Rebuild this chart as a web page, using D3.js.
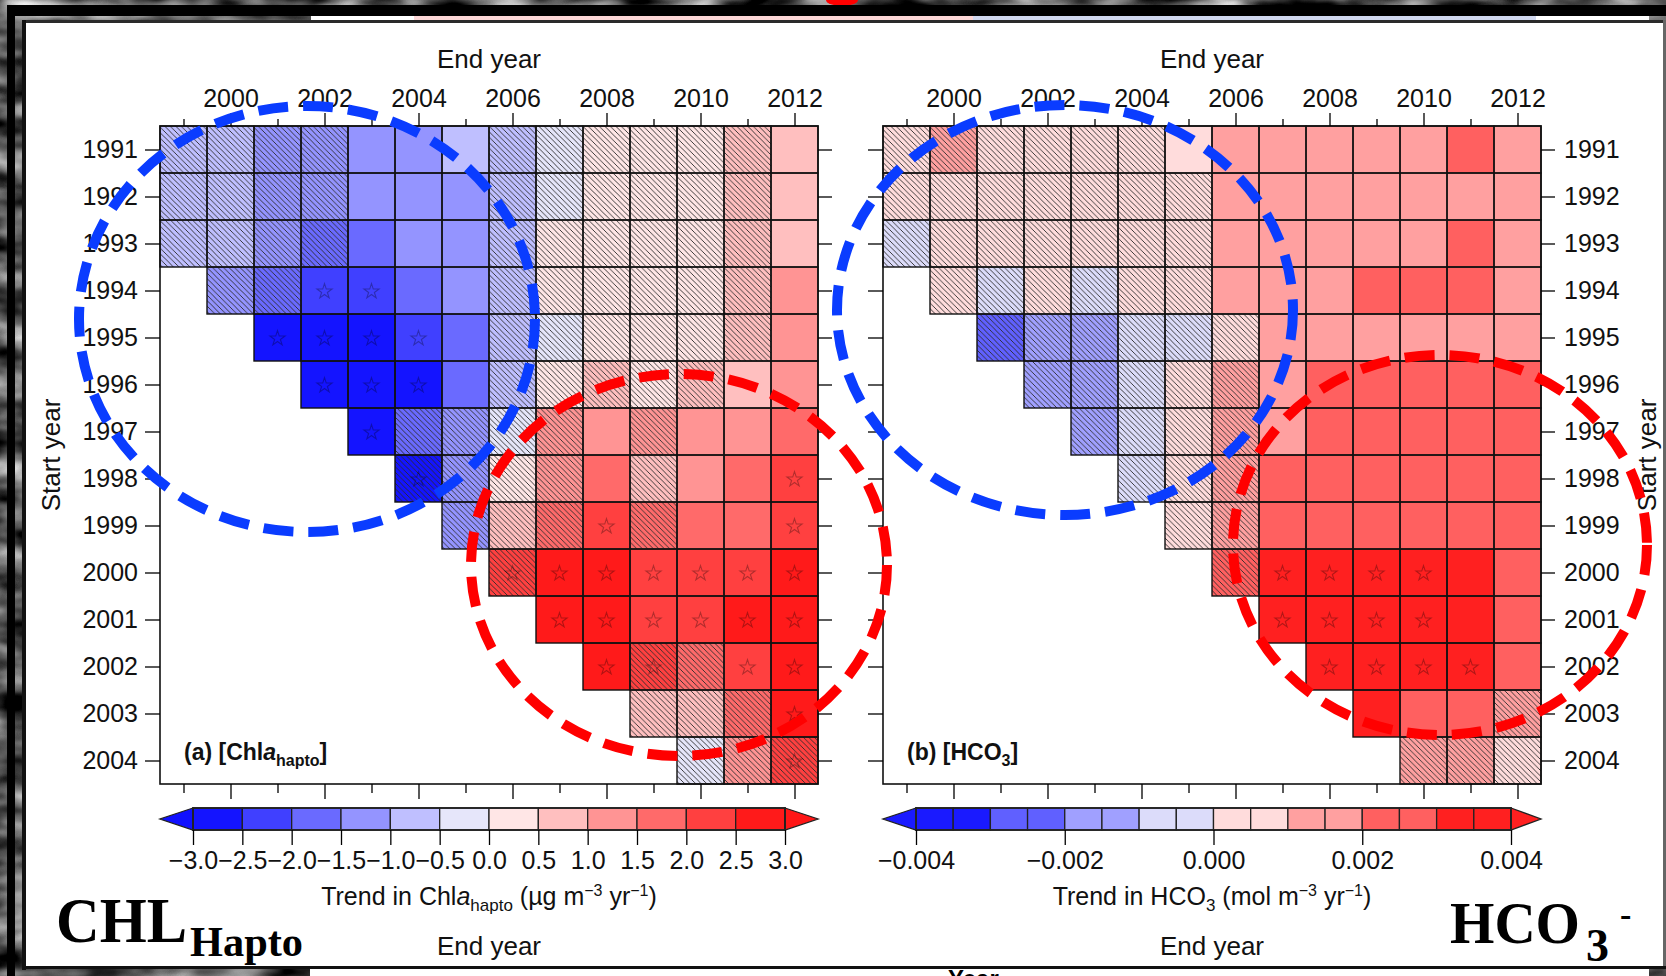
<!DOCTYPE html>
<html><head><meta charset="utf-8">
<script src="https://cdn.jsdelivr.net/npm/d3@7"></script>
<style>
body{margin:0;background:#fff;}
svg{display:block;}
text{font-family:"Liberation Sans",Arial,Helvetica,sans-serif;}
</style>
</head><body>
<script>
// ---------------- DATA ----------------
const N = null;
const startYears = [1991,1992,1993,1994,1995,1996,1997,1998,1999,2000,2001,2002,2003,2004];
const endYears   = [1999,2000,2001,2002,2003,2004,2005,2006,2007,2008,2009,2010,2011,2012];

// Panel (a): trend in Chla_hapto (ug m-3 yr-1); rows = start year, columns = end year
const chlTrend = [
  [-0.8,-0.8,-1.2,-1.3,-1.2,-1.1,-0.7,-0.6,-0.3,0.2,0.2,0.3,0.7,0.8],
  [-0.8,-0.8,-1.2,-1.2,-1.2,-1.1,-1.1,-0.7,-0.3,0.2,0.2,0.3,0.7,0.8],
  [-0.8,-0.8,-1.2,-1.7,-1.6,-1.3,-1.1,-0.7,0.2,0.2,0.2,0.3,0.7,0.8],
  [N,-1.2,-1.7,-2.2,-2.2,-1.7,-1.2,-0.7,0.2,0.2,0.2,0.3,0.7,1.2],
  [N,N,-2.8,-2.8,-2.8,-2.3,-1.7,-0.7,-0.3,0.2,0.2,0.3,0.7,1.2],
  [N,N,N,-2.8,-2.8,-2.7,-1.7,-0.7,0.2,0.6,0.2,0.6,0.8,1.2],
  [N,N,N,N,-2.8,-1.7,-1.2,-0.3,1.1,1.2,1.2,1.2,1.2,1.7],
  [N,N,N,N,N,-2.8,-1.2,0.2,1.2,1.7,0.8,1.2,1.7,2.2],
  [N,N,N,N,N,N,-1.2,0.7,1.7,2.2,1.6,1.7,1.7,2.2],
  [N,N,N,N,N,N,N,2.2,2.8,2.8,2.3,2.3,2.3,2.8],
  [N,N,N,N,N,N,N,N,2.8,2.8,2.3,2.3,2.8,2.8],
  [N,N,N,N,N,N,N,N,N,2.8,2.3,1.7,2.3,2.8],
  [N,N,N,N,N,N,N,N,N,N,0.7,0.7,1.7,2.8],
  [N,N,N,N,N,N,N,N,N,N,N,-0.3,1.2,2.2]
];
// significance: h = hatched (not significant), s = solid, * = star, # = hatched + star, . = none
const chlSig = [
  "hhhhssshhhhhhs",
  "hhhhssshhhhhhs",
  "hhhhssshhhhhhs",
  ".hh**sshhhhhhs",
  "..****shhhhhhs",
  "...***shhhhhss",
  "....*hhhhshsss",
  ".....#hhhshss*",
  "......hhh*hss*",
  ".......#******",
  "........******",
  ".........*#h**",
  "..........hhh*",
  "...........hh#"
];

// Panel (b): trend in HCO3 (mol m-3 yr-1)
const hco3Trend = [
  [0.0004,0.0013,0.0004,0.0003,0.0004,0.0004,0.0007,0.0015,0.0016,0.0016,0.0015,0.0016,0.0024,0.0016],
  [0.0004,0.0004,0.0004,0.0004,0.0004,0.0004,0.0006,0.0016,0.0016,0.0016,0.0016,0.0016,0.0016,0.0016],
  [-0.0004,0.0004,0.0004,0.0004,0.0004,0.0004,0.0006,0.0015,0.0016,0.0016,0.0016,0.0017,0.0024,0.0016],
  [N,0.0004,-0.0004,0.0003,-0.0004,0.0004,0.0006,0.0016,0.0017,0.0018,0.0023,0.0024,0.0023,0.0016],
  [N,N,-0.0026,-0.0016,-0.0015,-0.0006,-0.0006,0.0006,0.0016,0.0016,0.0017,0.0016,0.0016,0.0016],
  [N,N,N,-0.0015,-0.0014,-0.0006,0.0006,0.0014,0.0018,0.0024,0.0025,0.0025,0.0024,0.0024],
  [N,N,N,N,-0.0014,-0.0006,0.0006,0.0013,0.0018,0.0025,0.0025,0.0025,0.0025,0.0024],
  [N,N,N,N,N,-0.0006,0.0006,0.0013,0.0025,0.0025,0.0025,0.0025,0.0025,0.0025],
  [N,N,N,N,N,N,0.0006,0.0014,0.0025,0.0025,0.0025,0.0025,0.0025,0.0025],
  [N,N,N,N,N,N,N,0.0024,0.0035,0.0035,0.0035,0.0035,0.0034,0.0026],
  [N,N,N,N,N,N,N,N,0.0035,0.0035,0.0036,0.0035,0.0034,0.0026],
  [N,N,N,N,N,N,N,N,N,0.0035,0.0036,0.0035,0.0035,0.0026],
  [N,N,N,N,N,N,N,N,N,N,0.0034,0.0025,0.0025,0.0016],
  [N,N,N,N,N,N,N,N,N,N,N,0.0017,0.0016,0.0006]
];
const hco3Sig = [
  "hhhhhhssssssss",
  "hhhhhhhsssssss",
  "hhhhhhhsssssss",
  ".hhhhhhsssssss",
  "..hhhhhhssssss",
  "...hhhhhssssss",
  "....hhhhssssss",
  ".....hhhssssss",
  "......hhssssss",
  ".......h****ss",
  "........****ss",
  ".........****s",
  "..........sssh",
  "...........hhh"
];

// colour keys
const chlBreaks = [-3.0,-2.5,-2.0,-1.5,-1.0,-0.5,0.0,0.5,1.0,1.5,2.0,2.5,3.0];
const chlColors = ["#1414ff","#4040ff","#6a6aff","#9494ff","#bfbfff","#e6e6fa",
                   "#ffe6e6","#ffbfbf","#ff9494","#ff6a6a","#ff4040","#ff1a1a"];
const chlExtColors = ["#1010ff","#ff1616"];
const chlTicks = [-3.0,-2.5,-2.0,-1.5,-1.0,-0.5,0.0,0.5,1.0,1.5,2.0,2.5,3.0];

const hco3Breaks = [-0.004,-0.0035,-0.003,-0.0025,-0.002,-0.0015,-0.001,-0.0005,0,
                    0.0005,0.001,0.0015,0.002,0.0025,0.003,0.0035,0.004];
const hco3Colors = ["#1a1aff","#1a1aff","#6060ff","#6060ff","#a0a0ff","#a0a0ff","#dcdcfa","#dcdcfa",
                    "#ffdcdc","#ffdcdc","#ffa0a0","#ffa0a0","#ff6060","#ff6060","#ff2020","#ff2020"];
const hco3ExtColors = ["#1a1aff","#ff2020"];
const hco3Ticks = [-0.004,-0.002,0.000,0.002,0.004];

// ---------------- DRAW ----------------
const W = 1666, H = 976;
const svg = d3.select("body").append("svg").attr("width", W).attr("height", H);
const defs = svg.append("defs");

// grey stone-like texture for the surrounding photo frame
const flt = defs.append("filter").attr("id","tex").attr("filterUnits","userSpaceOnUse")
  .attr("color-interpolation-filters","sRGB")
  .attr("x",0).attr("y",0).attr("width",W).attr("height",H);
flt.append("feTurbulence").attr("type","fractalNoise").attr("baseFrequency","0.015 0.035")
  .attr("numOctaves",3).attr("seed",5);
flt.append("feColorMatrix").attr("type","matrix")
  .attr("values","1.5 0 0 0 -0.42  1.5 0 0 0 -0.42  1.5 0 0 0 -0.42  0 0 0 0 1");

const pat = defs.append("pattern").attr("id","hatch").attr("patternUnits","userSpaceOnUse")
  .attr("width",5.5).attr("height",5.5);
pat.append("path").attr("d","M-1,-1L6.5,6.5M-1,4.5L1,6.5M4.5,-1L6.5,1")
  .attr("stroke","#2b2b2b").attr("stroke-width",0.9).attr("fill","none");

svg.append("rect").attr("width",W).attr("height",H).attr("fill","#555").attr("filter","url(#tex)");
svg.append("ellipse").attr("cx",842).attr("cy",0).attr("rx",16).attr("ry",6).attr("fill","#ff0000");

// frame
const frame = svg.append("g");
frame.append("rect").attr("x",7).attr("y",5).attr("width",W-7).attr("height",11).attr("fill","#000");
frame.append("rect").attr("x",7).attr("y",5).attr("width",8).attr("height",H-5).attr("fill","#000");
frame.append("rect").attr("x",311).attr("y",16).attr("width",103).attr("height",4).attr("fill","#fff");
frame.append("rect").attr("x",414).attr("y",16).attr("width",559).attr("height",4).attr("fill","#fcd6d6");
frame.append("rect").attr("x",973).attr("y",16).attr("width",563).attr("height",4).attr("fill","#d0d7ee");
frame.append("rect").attr("x",1536).attr("y",16).attr("width",113).attr("height",4).attr("fill","#fff");
frame.append("rect").attr("x",22).attr("y",20).attr("width",W-22).attr("height",3).attr("fill","#2a2a2a");
frame.append("rect").attr("x",22).attr("y",20).attr("width",4).attr("height",950).attr("fill","#111");
frame.append("rect").attr("x",26).attr("y",23).attr("width",1637).attr("height",943).attr("fill","#fff");
frame.append("rect").attr("x",1663).attr("y",20).attr("width",3).attr("height",947).attr("fill","#666");
frame.append("rect").attr("x",310).attr("y",969).attr("width",1339).attr("height",7).attr("fill","#fff");
frame.append("text").attr("x",948).attr("y",987).attr("font-size",24).attr("font-weight","bold")
  .attr("fill","#000").text("Year");
frame.append("rect").attr("x",22).attr("y",966).attr("width",W-22).attr("height",3).attr("fill","#111");

const CELL = 47, GW = CELL*14, TOP = 126, BOT = TOP + GW;
const FS = 25;

function styleAxis(g){
  g.select(".domain").remove();
  g.attr("font-size",FS).attr("font-family","'Liberation Sans',Arial,sans-serif");
  g.selectAll(".tick line").attr("stroke","#000").attr("stroke-width",1.3);
  g.selectAll(".tick text").attr("fill","#111");
}

function drawPanel(o){
  const g = svg.append("g");
  const x0 = o.x0;
  const xb = d3.scaleBand().domain(endYears).range([x0, x0+GW]);
  const yb = d3.scaleBand().domain(startYears).range([TOP, BOT]);
  const xp = d3.scalePoint().domain(endYears).range([x0, x0+GW]).padding(0.5);
  const yp = d3.scalePoint().domain(startYears).range([TOP, BOT]).padding(0.5);
  const color = d3.scaleThreshold().domain(o.breaks)
     .range([o.ext[0], ...o.colors, o.ext[1]]);

  const cells = [];
  startYears.forEach((sy,i)=>endYears.forEach((ey,j)=>{
    const v = o.trend[i][j];
    if (v !== null) cells.push({sy, ey, v, s:o.sig[i][j]});
  }));
  const cg = g.append("g");
  cg.selectAll("rect.fill").data(cells).join("rect").attr("class","fill")
    .attr("x",d=>xb(d.ey)).attr("y",d=>yb(d.sy))
    .attr("width",xb.bandwidth()).attr("height",yb.bandwidth())
    .attr("fill",d=>color(d.v));
  cg.selectAll("rect.hatch").data(cells.filter(d=>d.s==="h"||d.s==="#")).join("rect").attr("class","hatch")
    .attr("x",d=>xb(d.ey)).attr("y",d=>yb(d.sy))
    .attr("width",xb.bandwidth()).attr("height",yb.bandwidth())
    .attr("fill","url(#hatch)");
  const star = d3.symbol().type(d3.symbolStar).size(70);
  cg.selectAll("path.star").data(cells.filter(d=>d.s==="*"||d.s==="#")).join("path").attr("class","star")
    .attr("d",star)
    .attr("transform",d=>`translate(${xp(d.ey)},${yp(d.sy)+1})`)
    .attr("fill","none").attr("stroke","rgba(0,0,0,0.3)").attr("stroke-width",1.1);
  cg.selectAll("rect.edge").data(cells).join("rect").attr("class","edge")
    .attr("x",d=>xb(d.ey)).attr("y",d=>yb(d.sy))
    .attr("width",xb.bandwidth()).attr("height",yb.bandwidth())
    .attr("fill","none").attr("stroke","#111").attr("stroke-width",1.4);

  // plot box
  g.append("rect").attr("x",x0).attr("y",TOP).attr("width",GW).attr("height",GW)
    .attr("fill","none").attr("stroke","#111").attr("stroke-width",1.6);

  const even = endYears.filter(y=>y%2===0), odd = endYears.filter(y=>y%2===1);
  g.append("g").attr("transform",`translate(0,${TOP})`)
    .call(d3.axisTop(xp).tickValues(even).tickSize(13).tickPadding(6).tickFormat(d3.format("d"))).call(styleAxis);
  g.append("g").attr("transform",`translate(0,${TOP})`)
    .call(d3.axisTop(xp).tickValues(odd).tickSize(7).tickFormat("")).call(styleAxis);
  g.append("g").attr("transform",`translate(0,${BOT})`)
    .call(d3.axisBottom(xp).tickValues(even).tickSize(15).tickFormat("")).call(styleAxis);
  g.append("g").attr("transform",`translate(0,${BOT})`)
    .call(d3.axisBottom(xp).tickValues(odd).tickSize(9).tickFormat("")).call(styleAxis);

  if (o.labelSide === "left"){
    g.append("g").attr("transform",`translate(${x0},0)`)
      .call(d3.axisLeft(yp).tickSize(15).tickPadding(7).tickFormat(d3.format("d"))).call(styleAxis);
    g.append("g").attr("transform",`translate(${x0+GW},0)`)
      .call(d3.axisRight(yp).tickSize(14).tickFormat("")).call(styleAxis);
  } else {
    g.append("g").attr("transform",`translate(${x0},0)`)
      .call(d3.axisLeft(yp).tickSize(15).tickFormat("")).call(styleAxis);
    g.append("g").attr("transform",`translate(${x0+GW},0)`)
      .call(d3.axisRight(yp).tickSize(14).tickPadding(9).tickFormat(d3.format("d"))).call(styleAxis);
  }

  const cx = x0 + GW/2;
  g.append("text").attr("x",cx).attr("y",68).attr("text-anchor","middle")
    .attr("font-size",26).attr("fill","#111").text("End year");
  g.append("text").attr("x",cx).attr("y",955).attr("text-anchor","middle")
    .attr("font-size",26).attr("fill","#111").text("End year");
  g.append("text").attr("transform",`translate(${o.syX},455) rotate(-90)`).attr("text-anchor","middle")
    .attr("font-size",26).attr("fill","#111").text("Start year");

  // colour bar
  const cb = g.append("g");
  const bx = d3.scaleLinear().domain([o.breaks[0], o.breaks[o.breaks.length-1]]).range(o.barRange);
  const by0 = 808, by1 = 830, bym = (by0+by1)/2;
  const bins = o.colors.map((c,i)=>({a:o.breaks[i], b:o.breaks[i+1], c}));
  cb.selectAll("rect").data(bins).join("rect")
    .attr("x",d=>bx(d.a)).attr("y",by0).attr("width",d=>bx(d.b)-bx(d.a)).attr("height",by1-by0)
    .attr("fill",d=>d.c).attr("stroke","#222").attr("stroke-width",1.3);
  cb.append("polygon").attr("points",`${o.barRange[0]},${by0} ${x0},${bym} ${o.barRange[0]},${by1}`)
    .attr("fill",o.ext[0]).attr("stroke","#222").attr("stroke-width",1.3);
  cb.append("polygon").attr("points",`${o.barRange[1]},${by0} ${x0+GW},${bym} ${o.barRange[1]},${by1}`)
    .attr("fill",o.ext[1]).attr("stroke","#222").attr("stroke-width",1.3);
  cb.append("rect").attr("x",o.barRange[0]).attr("y",by0).attr("width",o.barRange[1]-o.barRange[0])
    .attr("height",by1-by0).attr("fill","none").attr("stroke","#222").attr("stroke-width",1.8);
  cb.append("g").attr("transform",`translate(0,${by1})`)
    .call(d3.axisBottom(bx).tickValues(o.ticks).tickSize(15).tickPadding(6).tickFormat(d3.format(o.fmt)))
    .call(styleAxis);

  // colour bar title
  const t = g.append("text").attr("x",cx).attr("y",905).attr("text-anchor","middle")
    .attr("font-size",25).attr("fill","#111");
  o.title(t);

  // panel label
  const pl = g.append("text").attr("x",x0+24).attr("y",760).attr("font-size",23)
    .attr("font-weight","bold").attr("fill","#111");
  o.panelLabel(pl);
}

drawPanel({
  x0:160, trend:chlTrend, sig:chlSig, breaks:chlBreaks, colors:chlColors, ext:chlExtColors,
  ticks:chlTicks, fmt:".1f", barRange:[193,785], labelSide:"left", syX:60,
  title:t=>{
    t.append("tspan").text("Trend in Chl");
    t.append("tspan").attr("font-style","italic").text("a");
    t.append("tspan").attr("font-size",17).attr("dy",6).text("hapto");
    t.append("tspan").attr("dy",-6).text(" (\u00b5g m");
    t.append("tspan").attr("font-size",16).attr("dy",-9).text("\u22123");
    t.append("tspan").attr("dy",9).text(" yr");
    t.append("tspan").attr("font-size",16).attr("dy",-9).text("\u22121");
    t.append("tspan").attr("dy",9).text(")");
  },
  panelLabel:t=>{
    t.append("tspan").text("(a) [Chl");
    t.append("tspan").attr("font-style","italic").text("a");
    t.append("tspan").attr("font-size",16).attr("dy",6).text("hapto");
    t.append("tspan").attr("dy",-6).text("]");
  }
});

drawPanel({
  x0:883, trend:hco3Trend, sig:hco3Sig, breaks:hco3Breaks, colors:hco3Colors, ext:hco3ExtColors,
  ticks:hco3Ticks, fmt:".3f", barRange:[916,1511], labelSide:"right", syX:1656,
  title:t=>{
    t.append("tspan").text("Trend in HCO");
    t.append("tspan").attr("font-size",17).attr("dy",6).text("3");
    t.append("tspan").attr("dy",-6).text(" (mol m");
    t.append("tspan").attr("font-size",16).attr("dy",-9).text("\u22123");
    t.append("tspan").attr("dy",9).text(" yr");
    t.append("tspan").attr("font-size",16).attr("dy",-9).text("\u22121");
    t.append("tspan").attr("dy",9).text(")");
  },
  panelLabel:t=>{
    t.append("tspan").text("(b) [HCO");
    t.append("tspan").attr("font-size",16).attr("dy",6).text("3");
    t.append("tspan").attr("dy",-6).text("]");
  }
});

// annotation ellipses (dashed)
const rings = [
  {cx:307, cy:319, rx:228, ry:213, c:"#0a3cff"},
  {cx:679, cy:565, rx:208, ry:191, c:"#ff0000"},
  {cx:1065, cy:310, rx:228, ry:205, c:"#0a3cff"},
  {cx:1440, cy:545, rx:207, ry:190, c:"#ff0000"}
];
svg.append("g").selectAll("ellipse").data(rings).join("ellipse")
  .attr("cx",d=>d.cx).attr("cy",d=>d.cy).attr("rx",d=>d.rx).attr("ry",d=>d.ry)
  .attr("fill","none").attr("stroke",d=>d.c).attr("stroke-width",10).attr("stroke-dasharray","30 15");

// big labels
const serif = "'Liberation Serif','Times New Roman',serif";
const big = svg.append("g").attr("font-family",serif).attr("font-weight","bold").attr("fill","#000");
big.append("text").attr("x",56).attr("y",942).attr("font-size",64)
  .attr("textLength",131).attr("lengthAdjust","spacingAndGlyphs").style("font-family",serif).text("CHL");
big.append("text").attr("x",190).attr("y",956).attr("font-size",42)
  .attr("textLength",113).attr("lengthAdjust","spacingAndGlyphs").style("font-family",serif).text("Hapto");
big.append("text").attr("x",1450).attr("y",943).attr("font-size",60)
  .attr("textLength",130).attr("lengthAdjust","spacingAndGlyphs").style("font-family",serif).text("HCO");
big.append("text").attr("x",1586).attr("y",961).attr("font-size",46).style("font-family",serif).text("3");
big.append("text").attr("x",1620).attr("y",926).attr("font-size",34).style("font-family",serif).text("-");
</script>
</body></html>
